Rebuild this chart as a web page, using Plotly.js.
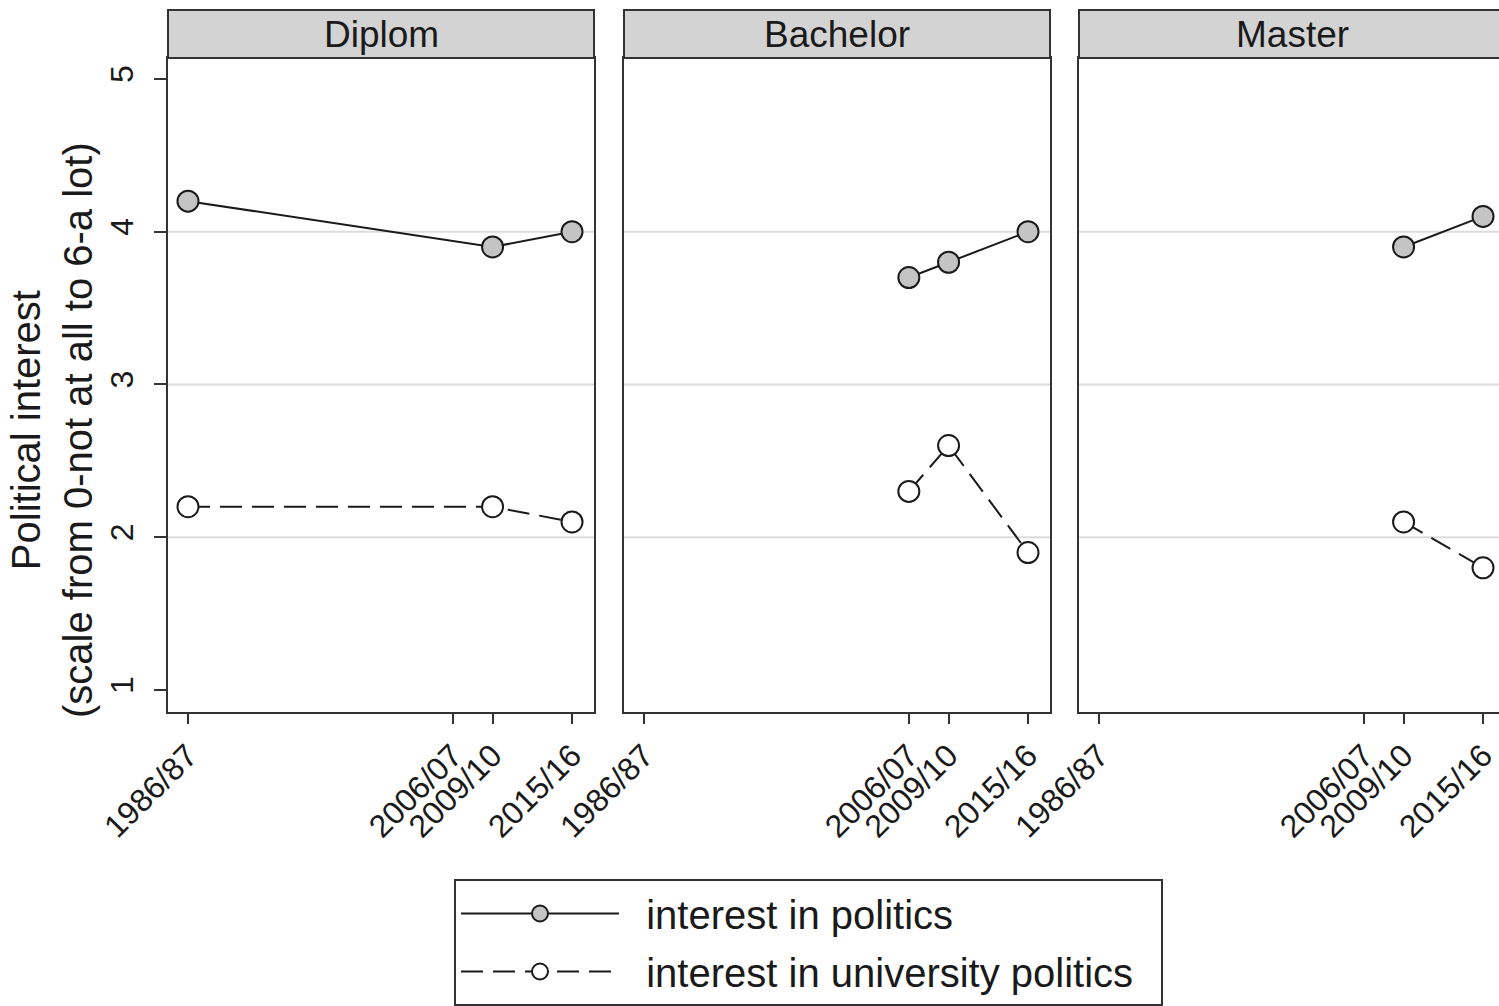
<!DOCTYPE html>
<html>
<head>
<meta charset="utf-8">
<script src="https://cdn.plot.ly/plotly-3.0.1.min.js"></script>
<style>
html, body { margin: 0; padding: 0; overflow: hidden; background: #fff; }
#chart { width: 1506px; height: 1030px; }
</style>
</head>
<body>
<div id="chart"></div>
<script>
// ---- data ----
const tickYears = [1986, 2006, 2009, 2015];
const tickLabels = ['1986/87', '2006/07', '2009/10', '2015/16'];
const panels = ['Diplom', 'Bachelor', 'Master'];
const seriesNames = ['interest in politics', 'interest in university politics'];

const diplomYears = [1986, 2009, 2015];
const diplomPolitics = [4.2, 3.9, 4.0];
const diplomUniv = [2.2, 2.2, 2.1];

const bachelorYears = [2006, 2009, 2015];
const bachelorPolitics = [3.7, 3.8, 4.0];
const bachelorUniv = [2.3, 2.6, 1.9];

const masterYears = [2009, 2015];
const masterPolitics = [3.9, 4.1];
const masterUniv = [2.1, 1.8];

const yTicks = [1, 2, 3, 4, 5];
const gridYs = [2, 3, 4];

// ---- layout geometry ----
const W = 1506, H = 1030;
const FONT = '"Liberation Sans", Arial, sans-serif';
const INK = '#1a1a1a';
const px2x = p => p / W;
const px2y = p => (H - p) / H;
const xDomains = [[168, 594], [624, 1050], [1079, 1505]].map(d => [px2x(d[0]), px2x(d[1])]);
const yDomain = [px2y(712), px2y(58)];
const xRange = [1984.49, 2016.66];
const yRange = [0.856, 5.137];
const PAD = '\u00a0\u00a0';

const panelData = [
  {years: diplomYears, pol: diplomPolitics, uni: diplomUniv},
  {years: bachelorYears, pol: bachelorPolitics, uni: bachelorUniv},
  {years: masterYears, pol: masterPolitics, uni: masterUniv}
];

const traces = [];
panelData.forEach((p, i) => {
  const xa = i === 0 ? 'x' : 'x' + (i + 1);
  const ya = i === 0 ? 'y' : 'y' + (i + 1);
  traces.push({
    x: p.years, y: p.pol, xaxis: xa, yaxis: ya,
    type: 'scatter', mode: 'lines+markers',
    name: PAD + seriesNames[0], legendgroup: 'a', showlegend: i === 0,
    line: {color: INK, width: 2},
    marker: {symbol: 'circle', size: 21, color: '#c4c4c4', line: {color: INK, width: 2}}
  });
  traces.push({
    x: p.years, y: p.uni, xaxis: xa, yaxis: ya,
    type: 'scatter', mode: 'lines+markers',
    name: PAD + seriesNames[1] + PAD, legendgroup: 'b', showlegend: i === 0,
    line: {color: INK, width: 2, dash: '22px,10px'},
    marker: {symbol: 'circle', size: 21, color: '#ffffff', line: {color: INK, width: 2}}
  });
});

const layout = {
  width: W, height: H,
  margin: {l: 0, r: 0, t: 0, b: 0},
  paper_bgcolor: '#ffffff', plot_bgcolor: '#ffffff',
  font: {family: FONT, color: INK},
  showlegend: true,
  legend: {
    x: px2x(454), y: px2y(879), xanchor: 'left', yanchor: 'top',
    bordercolor: '#333333', borderwidth: 2, bgcolor: '#ffffff',
    font: {family: FONT, size: 40, color: INK},
    itemwidth: 158, tracegroupgap: 3, traceorder: 'grouped'
  },
  shapes: [], annotations: []
};

panelData.forEach((p, i) => {
  const sfx = i === 0 ? '' : (i + 1);
  layout['xaxis' + sfx] = {
    domain: xDomains[i], range: xRange, anchor: 'y' + sfx,
    tickmode: 'array', tickvals: tickYears, ticktext: tickLabels,
    tickangle: -45, ticks: 'outside', ticklen: 10, tickwidth: 2, tickcolor: '#333333',
    tickfont: {family: FONT, size: 32, color: INK},
    showgrid: false, zeroline: false,
    showline: true, mirror: true, linecolor: '#333333', linewidth: 2
  };
  layout['yaxis' + sfx] = {
    domain: yDomain, range: yRange, anchor: 'x' + sfx,
    tickmode: 'array', tickvals: yTicks,
    showticklabels: i === 0, ticks: i === 0 ? 'outside' : '',
    ticklen: 12, tickwidth: 2, tickcolor: '#333333', tickangle: -90,
    ticklabelstandoff: 8,
    tickfont: {family: FONT, size: 32, color: INK},
    showgrid: false, zeroline: false,
    showline: true, mirror: true, linecolor: '#333333', linewidth: 2
  };
  if (i > 0) layout['yaxis' + sfx].matches = 'y';
  // gridlines at interior ticks
  gridYs.forEach(g => {
    layout.shapes.push({
      type: 'line', xref: 'x' + sfx + ' domain', yref: 'y' + sfx,
      x0: 0, x1: 1, y0: g, y1: g, layer: 'below',
      line: {color: '#dcdcdc', width: 2}
    });
  });
  // header strip
  layout.shapes.push({
    type: 'rect', xref: 'paper', yref: 'paper',
    x0: xDomains[i][0], x1: xDomains[i][1], y0: px2y(58), y1: px2y(10),
    fillcolor: '#d3d3d3', line: {color: '#333333', width: 2}, layer: 'above'
  });
  layout.annotations.push({
    xref: 'paper', yref: 'paper',
    x: (xDomains[i][0] + xDomains[i][1]) / 2, y: px2y(34),
    xanchor: 'center', yanchor: 'middle', showarrow: false,
    text: panels[i], font: {family: FONT, size: 37, color: INK}
  });
});

// y-axis title
layout.annotations.push({
  xref: 'paper', yref: 'paper', x: px2x(52), y: px2y(430),
  xanchor: 'center', yanchor: 'middle', showarrow: false, textangle: -90,
  text: 'Political interest<br>(scale from 0-not at all to 6-a lot)',
  font: {family: FONT, size: 40, color: INK}
});

Plotly.newPlot('chart', traces, layout, {staticPlot: true, displayModeBar: false});
</script>
</body>
</html>
